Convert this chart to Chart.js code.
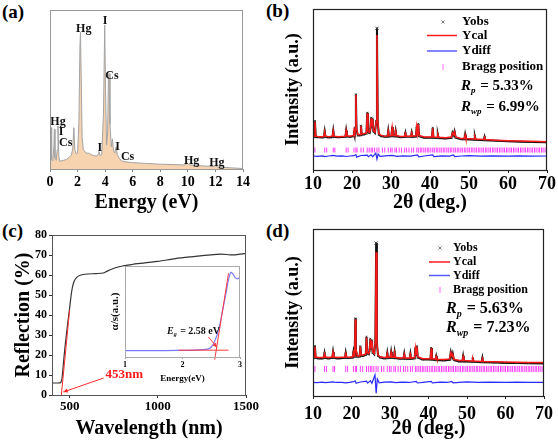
<!DOCTYPE html>
<html>
<head>
<title>EDS, XRD refinement and reflection spectra</title>
<script src="https://cdn.jsdelivr.net/npm/chart.js"></script>
<style>
  body { margin: 0; width: 558px; height: 441px; position: relative; overflow: hidden; background: #fff;
         font-family: "Liberation Serif", "Times New Roman", serif; }
  canvas, .tag { position: absolute; }
  .tag { font-weight: bold; font-size: 19px; line-height: 20px; color: #000; }
</style>
</head>
<body>
<div class="tag" style="left:2px;top:2px">(a)</div>
<div class="tag" style="left:266px;top:1px">(b)</div>
<div class="tag" style="left:2px;top:221px">(c)</div>
<div class="tag" style="left:266px;top:221px">(d)</div>

<canvas id="edsChart" width="279" height="220" style="left:0;top:0"></canvas>
<canvas id="xrdB" width="279" height="220" style="left:279px;top:0"></canvas>
<canvas id="reflChart" width="279" height="221" style="left:0;top:220px"></canvas>
<canvas id="insetChart" width="150" height="125" style="left:100px;top:260px"></canvas>
<canvas id="xrdD" width="279" height="221" style="left:279px;top:220px"></canvas>

<script>
// ---- (a) EDS spectrum ----
const energyKeV = [0, 0.04, 0.08, 0.12, 0.2, 0.28, 0.32, 0.36, 0.45, 0.52, 0.58, 0.64, 0.7, 0.8, 1.0, 1.2, 1.4, 1.55, 1.65, 1.73,
  1.8, 1.9, 2.0, 2.1, 2.17, 2.21, 2.26, 2.33, 2.42, 2.5, 2.6, 2.8, 3.0, 3.2, 3.4, 3.5, 3.55, 3.62, 3.75, 3.88,
  3.97, 4.03, 4.1, 4.18, 4.24, 4.28, 4.35, 4.45, 4.53, 4.6, 4.7, 4.8, 4.88, 5.0, 5.2, 5.5, 6, 7, 8, 9,
  9.8, 9.95, 10.1, 11, 11.9, 12.0, 12.15, 13, 14];
const edsCounts = [0, 24, 26, 6, 5, 14, 25, 7, 5.5, 12, 27, 8, 5, 5, 5.5, 6, 7.5, 8.5, 13, 26,
  12, 9.5, 10, 30, 76, 86, 60, 20, 12, 11.5, 10, 10, 9, 8.5, 8, 9.5, 11, 8.5, 9, 35,
  90.5, 50, 15, 22, 58, 60, 28, 14, 19, 12, 10, 14, 9, 7, 5, 4.5, 4, 3.5, 3, 2.8,
  2.5, 3.8, 2.6, 2, 1.5, 2.2, 1.3, 0.8, 0.3];
const edsTicks = [0, 2, 4, 6, 8, 10, 12, 14];
const edsElements = ['Hg', 'I', 'Cs', 'Hg', 'I', 'Cs', 'I', 'I', 'Cs', 'Hg', 'Hg'];

// ---- (b)/(d) XRD refinement ----
const twoTheta = [10, 10.3, 10.5, 10.7, 11.5, 12.5, 12.8, 13, 13.2, 14,
  15, 15.2, 15.4, 16.5, 18.3, 18.5, 18.7, 19.5, 20.3, 20.5,
  20.7, 20.85, 21, 21.15, 21.5, 22.1, 22.3, 22.5, 23, 23.7,
  23.9, 24.1, 24.5, 24.7, 24.9, 25.1, 25.3, 25.5, 25.9, 26.2,
  26.4, 26.6, 26.9, 27.5, 28.5, 29.1, 29.3, 29.5, 30.1, 30.3,
  30.5, 31, 31.2, 31.4, 32.5, 33.5, 33.7, 33.9, 35.1, 35.3,
  35.5, 36.4, 36.6, 36.8, 37, 37.2, 38.5, 40.5, 40.7, 40.9,
  41.8, 42, 42.2, 44, 45.5, 45.8, 46.1, 46.3, 46.6, 48,
  48.8, 49, 49.2, 51.3, 51.5, 51.7, 53.8, 54, 54.2, 57,
  60, 63, 66, 70];
const calB = [20.7, 21, 30, 21, 20.7, 20.7, 21, 23.8, 21, 20.7,
  21, 24.2, 21, 20.7, 21, 24.4, 21.2, 21, 21.5, 23.8,
  22, 26, 46.6, 26, 22, 22, 27.3, 22.5, 22.5, 23,
  35.2, 24, 23.5, 25, 32.1, 27, 31.5, 24.5, 23.5, 30,
  83.9, 30, 22.5, 21.5, 21, 21.2, 24.2, 21.2, 21.5, 26.2,
  21.5, 21.3, 24, 21.3, 20.8, 21, 22.8, 21, 21, 23,
  21, 21.2, 26.7, 23, 28.4, 21.5, 20.5, 20.5, 25.9, 20.5,
  20.3, 22, 20.3, 20, 20.5, 23, 22, 23.6, 20.5, 19.5,
  19.5, 21.7, 19.5, 19.2, 20.7, 19.2, 18.9, 20.3, 18.9, 18.5,
  18.2, 18, 17.8, 17.6];
const obsB = [20.2, 20.6, 30.4, 20.5, 20.3, 20.2, 20.6, 24, 20.6, 20.2,
  20.5, 24.4, 20.6, 20.3, 20.6, 24.5, 20.8, 20.5, 21, 24,
  21.5, 26.3, 47, 25.5, 21.5, 21.6, 27.6, 22, 22, 22.6,
  35.6, 23.5, 23, 25.3, 32.5, 26.5, 31.8, 24, 23, 30.3,
  88, 29.5, 22, 21, 20.6, 20.8, 24.5, 20.8, 21, 26.5,
  21, 20.9, 24.2, 20.9, 20.4, 20.6, 23, 20.6, 20.6, 23.2,
  20.6, 20.8, 27, 22.6, 28.7, 21, 20, 20.1, 26.2, 20,
  19.9, 22.2, 19.9, 19.6, 20, 23.2, 21.6, 23.8, 20, 19.1,
  19.1, 22, 19.1, 18.8, 20.9, 18.8, 18.5, 20.5, 18.5, 18.1,
  17.8, 17.6, 17.4, 17.2];
const calD = [23, 23.3, 29.5, 23.3, 23, 23, 23.3, 25.3, 23.3, 23,
  23.3, 26, 23.3, 23, 23.3, 25.5, 23.3, 23.2, 23.5, 26,
  24, 28, 46, 28, 24, 24, 29.5, 24.5, 24.5, 25,
  35, 26, 25.5, 27, 34, 29, 33, 26.5, 25.5, 32,
  86, 32, 24.5, 23.5, 23, 23.2, 25.5, 23.2, 23.3, 26,
  23.3, 23.2, 26, 23.2, 22.8, 22.8, 25, 22.8, 22.7, 25,
  22.7, 23, 28.5, 25, 29.5, 23.5, 22.3, 22.3, 28.5, 22.3,
  22, 23.5, 22, 21.8, 22.2, 26, 24, 25, 22, 21.2,
  21.2, 23.5, 21.2, 21, 22.5, 21, 20.7, 22.5, 20.7, 20.5,
  20.3, 20.2, 20.1, 20];
const obsD = [22.5, 22.9, 29.9, 22.8, 22.5, 22.5, 22.9, 25.6, 22.8, 22.5,
  22.8, 26.3, 22.8, 22.5, 22.8, 25.8, 22.8, 22.7, 23, 26.3,
  23.5, 28.3, 46.5, 27.5, 23.5, 23.6, 29.8, 24, 24, 24.6,
  35.4, 25.5, 25, 27.3, 34.3, 28.5, 33.3, 26, 25, 32.3,
  91.6, 31.4, 24, 23, 22.5, 22.7, 25.8, 22.7, 22.8, 26.3,
  22.8, 22.7, 26.3, 22.7, 22.3, 22.3, 25.3, 22.3, 22.2, 25.3,
  22.2, 22.5, 28.8, 24.6, 29.8, 23, 21.8, 21.8, 28.8, 21.8,
  21.5, 23.8, 21.5, 21.3, 21.7, 26.3, 23.5, 25.3, 21.5, 20.7,
  20.7, 23.8, 20.7, 20.5, 22.8, 20.5, 20.2, 22.8, 20.2, 20,
  19.8, 19.7, 19.6, 19.5];
const diffTheta = [10, 11, 12.5, 13, 14, 15.2, 16, 17.5, 18.5, 19.5,
  20.5, 21, 21.2, 22.3, 23.9, 24.2, 24.9, 25.3, 26.1, 26.4,
  26.7, 27.2, 28.5, 30.3, 31.5, 33, 35, 36.8, 37.1, 38.5,
  40.7, 41, 43, 45, 46, 46.4, 48, 50, 53, 56,
  60, 63, 66, 70];
const diffB = [8.7, 8.5, 8.8, 8.3, 8.7, 9.1, 8.6, 8.8, 8.4, 8.7,
  8.9, 9.6, 8, 9, 9.3, 8.3, 9.4, 8.2, 10.5, 6.8,
  9.9, 8.5, 8.8, 9.1, 8.5, 8.8, 8.6, 9.4, 8.2, 8.7,
  9.4, 8.3, 8.8, 8.6, 9.3, 8.3, 8.7, 8.9, 8.6, 8.8,
  8.6, 8.8, 8.6, 8.7];
const diffD = [8.2, 8.0, 8.3, 8.0, 8.2, 8.4, 8.1, 8.2, 7.9, 8.2,
  8.6, 9.0, 7.6, 8.4, 8.9, 7.7, 9.2, 7.6, 12.6, 1.6,
  10.2, 7.9, 8.3, 8.5, 8.0, 8.3, 8.1, 8.7, 7.8, 8.2,
  8.7, 7.9, 8.3, 8.1, 8.7, 7.9, 8.2, 8.4, 8.1, 8.3,
  8.1, 8.3, 8.1, 8.2];
const braggPos = [10.5, 13.0, 13.5, 15.2, 15.6, 18.5, 19.0, 20.5, 21.0, 21.3, 22.3, 22.9, 23.9, 24.4, 24.9, 25.3,
  25.8, 26.4, 26.9, 27.8, 28.4, 29.3, 29.9, 30.3, 31.0, 31.4, 32.1, 32.7, 33.5, 34.0, 34.6, 35.3, 35.8,
  36.6, 37.0, 37.5, 37.9, 38.4, 38.8, 39.3, 39.7, 40.2, 40.7, 41.1, 41.6, 42.0, 42.5, 42.9, 43.4, 43.8,
  44.3, 44.7, 45.2, 45.6, 46.1, 46.5, 47.0, 47.4, 47.9, 48.3, 48.8, 49.2, 49.7, 50.1, 50.6, 51.0, 51.5,
  51.9, 52.4, 52.8, 53.3, 53.7, 54.2, 54.6, 55.1, 55.5, 56.0, 56.4, 56.9, 57.3, 57.8, 58.2, 58.7, 59.1,
  59.6, 60.0, 60.5, 60.9, 61.4, 61.8, 62.3, 62.7, 63.2, 63.6, 64.1, 64.5, 65.0, 65.4, 65.9, 66.3, 66.8,
  67.2, 67.7, 68.1, 68.6, 69.0, 69.5, 69.9];
const braggLevelB = 12.4;
const braggLevelD = 16.2;
const xrdTicks = [10, 20, 30, 40, 50, 60, 70];

// ---- (c) reflection + inset ----
const wavelength = [400, 430, 445, 450, 456, 461, 466, 472, 480, 490,
  500, 508, 515, 525, 540, 560, 600, 650, 690, 710,
  730, 760, 800, 850, 870, 900, 1000, 1100, 1200, 1300,
  1360, 1410, 1440, 1500];
const reflection = [6, 6, 6.1, 6.3, 8, 12, 17, 22.5, 29, 36.5,
  43.5, 49.5, 53.5, 56.8, 58.8, 59.9, 60.5, 60.7, 61, 61.8,
  62.6, 63.6, 64.5, 65.2, 65.6, 65.8, 66.8, 68.2, 69.2, 70.1,
  70.4, 70.1, 70.1, 70.8];
const edgeFitNm = [453, 500];
const edgeFitR = [0, 42.5];
const wlTicks = [500, 1000, 1500];
const reflTicks = [0, 10, 20, 30, 40, 50, 60, 70, 80];
const insetE = [1.0, 1.5, 1.9, 2.2, 2.35, 2.45, 2.5, 2.55, 2.6, 2.65, 2.7, 2.75, 2.8, 2.84, 2.88, 2.92, 2.96, 3.0];
const insetAS = [0.07, 0.07, 0.072, 0.075, 0.08, 0.09, 0.11, 0.16, 0.24, 0.36, 0.52, 0.68, 0.85, 0.93, 0.91, 0.87, 0.86, 0.88];
const baseFitE = [1.93, 2.8];
const baseFitAS = [0.075, 0.075];
const slopeFitE = [2.56, 2.8];
const slopeFitAS = [-0.03, 0.92];
const insetTicks = [1, 2, 3];

const SERIF = '"Liberation Serif", "Times New Roman", serif';
Chart.defaults.font.family = SERIF;
Chart.defaults.color = '#000';

const pts = (xs, ys) => xs.map((x, i) => ({ x: x, y: ys[i] }));
const fixTicks = list => s => { s.ticks = list.map(v => ({ value: v })); };
const plain = v => String(v);
const base = () => ({
  responsive: false, animation: false, events: [],
  plugins: { legend: { display: false }, tooltip: { enabled: false } }
});

function frame(color, width) {
  return {
    id: 'frame',
    afterDraw(chart) {
      const { ctx, chartArea: a } = chart;
      ctx.save();
      ctx.strokeStyle = color;
      ctx.lineWidth = width;
      ctx.strokeRect(a.left + 0.5, a.top + 0.5, a.right - a.left - 1, a.bottom - a.top);
      ctx.restore();
    }
  };
}

function arrow(ctx, x1, y1, x2, y2, color) {
  const ang = Math.atan2(y2 - y1, x2 - x1), h = 5;
  ctx.strokeStyle = color; ctx.fillStyle = color; ctx.lineWidth = 1;
  ctx.beginPath(); ctx.moveTo(x1, y1); ctx.lineTo(x2, y2); ctx.stroke();
  ctx.beginPath(); ctx.moveTo(x2, y2);
  ctx.lineTo(x2 - h * Math.cos(ang - 0.45), y2 - h * Math.sin(ang - 0.45));
  ctx.lineTo(x2 - h * Math.cos(ang + 0.45), y2 - h * Math.sin(ang + 0.45));
  ctx.closePath(); ctx.fill();
}

// italic symbol + italic subscript + plain rest
function subText(ctx, x, y, sym, sub, rest, size) {
  ctx.font = `italic bold ${size}px ${SERIF}`;
  ctx.fillText(sym, x, y);
  let w = ctx.measureText(sym).width;
  ctx.font = `italic bold ${Math.round(size * 0.62)}px ${SERIF}`;
  ctx.fillText(sub, x + w, y + size * 0.32);
  w += ctx.measureText(sub).width;
  ctx.font = `bold ${size}px ${SERIF}`;
  ctx.fillText(rest, x + w + 1, y);
}

// ---- (a) ----
const edsNotes = [[2.45, 88], [3.99, 93], [4.5, 58.5], [0.58, 29.6], [0.8, 23.5], [1.14, 16.3],
  [3.62, 13], [4.9, 14], [5.63, 7.8], [10.27, 5], [12.1, 3.6]];
new Chart(document.getElementById('edsChart'), {
  type: 'line',
  data: { datasets: [{
    data: pts(energyKeV, edsCounts), borderColor: '#a3a3a3', borderWidth: 1,
    backgroundColor: '#f8d3b0', fill: 'origin', pointRadius: 0, tension: 0
  }] },
  options: Object.assign(base(), {
    layout: { padding: { left: 0, right: 36, top: 10, bottom: 0 } },
    scales: {
      x: { type: 'linear', min: 0, max: 14, afterBuildTicks: fixTicks(edsTicks), afterFit: s => { s.height = 51; },
        grid: { drawOnChartArea: false, tickLength: 3, color: '#888' }, border: { color: '#999' },
        ticks: { font: { size: 14, weight: 'bold' }, padding: 2, autoSkip: false, maxRotation: 0, callback: plain },
        title: { display: true, text: 'Energy (eV)', font: { size: 20, weight: 'bold' }, padding: { top: 0, bottom: 5 } } },
      y: { min: 0, max: 100, afterFit: s => { s.width = 50; }, ticks: { display: false }, grid: { display: false }, border: { display: false } }
    }
  }),
  plugins: [frame('#999', 1), {
    id: 'edsNotes',
    afterDatasetsDraw(chart) {
      const { ctx, scales: { x, y } } = chart;
      ctx.save();
      ctx.font = `bold 12px ${SERIF}`;
      ctx.fillStyle = '#111';
      ctx.textAlign = 'center';
      ctx.textBaseline = 'middle';
      edsElements.forEach((el, i) => {
        ctx.fillText(el, x.getPixelForValue(edsNotes[i][0]), y.getPixelForValue(edsNotes[i][1]));
      });
      ctx.restore();
    }
  }]
});

// ---- (b) and (d) ----
function xrdChart(id, cal, obs, diff, braggLevel, lay) {
  new Chart(document.getElementById(id), {
    type: 'line',
    data: { datasets: [
      { data: pts(twoTheta, cal), borderColor: '#ff1a1a', borderWidth: 1.5, pointRadius: 0, tension: 0, order: 1 },
      { data: pts(twoTheta, obs), borderColor: '#111', borderWidth: 2, pointStyle: 'crossRot',
        pointRadius: c => (c.raw && c.raw.y > 80 ? 2.2 : 1.2),
        pointBorderColor: '#333', pointBorderWidth: 1, tension: 0, order: 2 },
      { data: pts(diffTheta, diff), borderColor: '#2a2aff', borderWidth: 1.2, pointRadius: 0, tension: 0, order: 3 },
      { data: braggPos.map(t => ({ x: t, y: braggLevel })), showLine: false, pointStyle: 'line', rotation: 90,
        pointRadius: lay.tick, pointBorderColor: '#ff3cff', pointBorderWidth: 1, order: 4 }
    ] },
    options: Object.assign(base(), {
      layout: { padding: { left: 0, right: 11, top: lay.top, bottom: 0 } },
      scales: {
        x: { type: 'linear', min: 10, max: 70, afterBuildTicks: fixTicks(xrdTicks), afterFit: s => { s.height = lay.xh; },
          grid: { drawOnChartArea: false, tickLength: 3, color: '#222' }, border: { color: '#222' },
          ticks: { font: { size: 18, weight: 'bold' }, padding: lay.tp, autoSkip: false, maxRotation: 0, callback: plain },
          title: { display: true, text: '2θ (deg.)', font: { size: 20, weight: 'bold' }, padding: { top: 0, bottom: lay.tb } } },
        y: { min: 0, max: 100, afterFit: s => { s.width = 34; }, ticks: { display: false }, grid: { display: false }, border: { display: false },
          title: { display: true, text: 'Intensity (a.u.)', font: { size: 18, weight: 'bold' }, padding: { top: 3.5, bottom: 0 } } }
      }
    }),
    plugins: [frame('#222', 1.2), {
      id: 'xrdLegend',
      afterDraw(chart) {
        const ctx = chart.ctx, r = lay.rows;
        ctx.save();
        ctx.textBaseline = 'middle';
        ctx.fillStyle = '#000';
        // Yobs marker
        ctx.strokeStyle = '#777'; ctx.lineWidth = 1;
        ctx.beginPath();
        ctx.moveTo(lay.mx - 1.5, r[0] - 1.5); ctx.lineTo(lay.mx + 1.5, r[0] + 1.5);
        ctx.moveTo(lay.mx - 1.5, r[0] + 1.5); ctx.lineTo(lay.mx + 1.5, r[0] - 1.5);
        ctx.stroke();
        // Ycal / Ydiff lines
        ctx.lineWidth = 1.5;
        ctx.strokeStyle = '#ff1a1a';
        ctx.beginPath(); ctx.moveTo(lay.lx[0], r[1]); ctx.lineTo(lay.lx[1], r[1]); ctx.stroke();
        ctx.strokeStyle = '#5a5aff';
        ctx.beginPath(); ctx.moveTo(lay.lx[0], r[2]); ctx.lineTo(lay.lx[1], r[2]); ctx.stroke();
        // Bragg tick
        ctx.strokeStyle = '#ff9cff'; ctx.lineWidth = 1.5;
        ctx.beginPath(); ctx.moveTo(lay.mx, r[3] - 3); ctx.lineTo(lay.mx, r[3] + 3); ctx.stroke();
        ctx.font = `bold ${lay.font}px ${SERIF}`;
        ['Yobs', 'Ycal', 'Ydiff', 'Bragg position'].forEach((t, i) => ctx.fillText(t, lay.tx, r[i]));
        subText(ctx, lay.rx, r[4], 'R', 'p', ' = ' + lay.rp, lay.rfont);
        subText(ctx, lay.rx, r[5], 'R', 'wp', ' = ' + lay.rwp, lay.rfont);
        ctx.restore();
      }
    }]
  });
}

xrdChart('xrdB', calB, obsB, diffB, braggLevelB, {
  top: 9, xh: 50, tp: 1, tb: 5, tick: 2.5,
  rows: [22, 35.5, 51, 67, 86, 107], mx: 164, lx: [148, 178], tx: 183, rx: 182,
  font: 13, rfont: 15, rp: '5.33%', rwp: '6.99%'
});
xrdChart('xrdD', calD, obsD, diffD, braggLevelD, {
  top: 9, xh: 45, tp: 5, tb: 0, tick: 3,
  rows: [28, 42, 55.5, 70, 89, 108], mx: 161, lx: [150, 171], tx: 174, rx: 167,
  font: 12, rfont: 16, rp: '5.63%', rwp: '7.23%'
});

// ---- (c) ----
new Chart(document.getElementById('reflChart'), {
  type: 'line',
  data: { datasets: [
    { data: pts(edgeFitNm, edgeFitR), borderColor: '#ff2a2a', borderWidth: 1, pointRadius: 0, clip: 4 },
    { data: pts(wavelength, reflection), borderColor: '#333', borderWidth: 1.2, pointRadius: 0, tension: 0.3 }
  ] },
  options: Object.assign(base(), {
    layout: { padding: { left: 0, right: 33, top: 15, bottom: 0 } },
    scales: {
      x: { type: 'linear', min: 400, max: 1500, afterBuildTicks: fixTicks(wlTicks), afterFit: s => { s.height = 46; },
        grid: { drawOnChartArea: false, tickLength: 3, color: '#333' }, border: { color: '#444' },
        ticks: { font: { size: 13, weight: 'bold' }, padding: 1, autoSkip: false, maxRotation: 0, callback: plain },
        title: { display: true, text: 'Wavelength (nm)', font: { size: 20, weight: 'bold' }, padding: { top: 0, bottom: 0 } } },
      y: { min: 0, max: 80, afterBuildTicks: fixTicks(reflTicks), afterFit: s => { s.width = 52; },
        grid: { drawOnChartArea: false, tickLength: 3, color: '#333' }, border: { color: '#444' },
        ticks: { font: { size: 12, weight: 'bold' }, padding: 2, autoSkip: false, callback: plain },
        title: { display: true, text: 'Reflection (%)', font: { size: 20, weight: 'bold' }, padding: { top: 12, bottom: 0 } } }
    }
  }),
  plugins: [frame('#555', 1), {
    id: 'edgeNote',
    afterDraw(chart) {
      const { ctx, scales: { x, y } } = chart;
      ctx.save();
      arrow(ctx, x.getPixelForValue(693), y.getPixelForValue(8.5), x.getPixelForValue(464), y.getPixelForValue(1.5), '#ff2a2a');
      ctx.font = `bold 13px ${SERIF}`;
      ctx.fillStyle = '#ff1a1a';
      ctx.textBaseline = 'middle';
      ctx.fillText('453nm', x.getPixelForValue(704), y.getPixelForValue(10));
      ctx.restore();
    }
  }]
});

new Chart(document.getElementById('insetChart'), {
  type: 'line',
  data: { datasets: [
    { data: pts(baseFitE, baseFitAS), borderColor: '#ff3a3a', borderWidth: 1, pointRadius: 0 },
    { data: pts(slopeFitE, slopeFitAS), borderColor: '#ff3a3a', borderWidth: 1, pointRadius: 0, clip: 4 },
    { data: pts(insetE, insetAS), borderColor: '#7a7aff', borderWidth: 1.2, pointRadius: 0, tension: 0.3 }
  ] },
  options: Object.assign(base(), {
    layout: { padding: { left: 0, right: 10, top: 6, bottom: 0 } },
    scales: {
      x: { type: 'linear', min: 1, max: 3, afterBuildTicks: fixTicks(insetTicks), afterFit: s => { s.height = 28; },
        grid: { drawOnChartArea: false, tickLength: 2, color: '#999' }, border: { color: '#aaa' },
        ticks: { font: { size: 8, weight: 'bold' }, padding: 1, autoSkip: false, maxRotation: 0, callback: plain },
        title: { display: true, text: 'Energy(eV)', font: { size: 9, weight: 'bold' }, padding: { top: 0, bottom: 1 } } },
      y: { min: 0, max: 1, afterFit: s => { s.width = 25; }, ticks: { display: false }, grid: { display: false }, border: { display: false } }
    }
  }),
  plugins: [frame('#aaa', 1), {
    id: 'gapNote',
    afterDraw(chart) {
      const { ctx, chartArea: a, scales: { x, y } } = chart;
      ctx.save();
      arrow(ctx, x.getPixelForValue(2.45), y.getPixelForValue(0.22), x.getPixelForValue(2.6), y.getPixelForValue(0.105), '#ff3a3a');
      ctx.fillStyle = '#111';
      ctx.textBaseline = 'middle';
      subText(ctx, x.getPixelForValue(1.73), y.getPixelForValue(0.286), 'E', 'g', ' = 2.58 eV', 10);
      // rotated y title, centred on the plot height
      ctx.translate(a.left - 10, (a.top + a.bottom) / 2);
      ctx.rotate(-Math.PI / 2);
      ctx.textAlign = 'center';
      ctx.font = `bold 11px ${SERIF}`;
      ctx.fillText('α/s(a.u.)', 0, 0);
      ctx.restore();
    }
  }]
});
</script>
</body>
</html>
